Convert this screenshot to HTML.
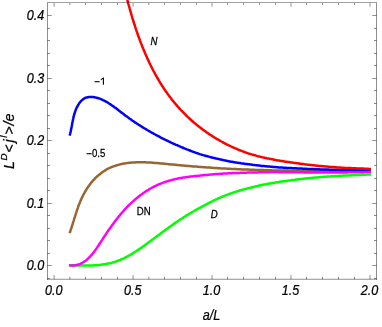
<!DOCTYPE html>
<html><head><meta charset="utf-8"><title>plot</title>
<style>
html,body{margin:0;padding:0;background:#fff;}
body{width:382px;height:327px;overflow:hidden;}
svg{display:block;will-change:transform;}
text{font-family:"Liberation Sans",sans-serif;fill:#000;stroke:#000;stroke-width:0.25px;}
.tk{font-size:14.3px;font-style:italic;}
.lb{font-size:10px;}
</style></head><body>
<svg width="382" height="327" viewBox="0 0 382 327">
<rect width="382" height="327" fill="#fff"/>
<defs><clipPath id="c"><rect x="47.5" y="0" width="329.0" height="279.25"/></clipPath></defs>

<g clip-path="url(#c)" fill="none" stroke-width="2.5" stroke-linejoin="round">
<path d="M69.6,233.1 L69.9,232.2 L70.3,231.2 L70.6,230.2 L71.0,229.3 L71.3,228.3 L71.6,227.3 L71.9,226.3 L72.3,225.2 L72.6,224.2 L72.9,223.2 L73.2,222.1 L73.6,221.1 L73.9,220.0 L74.2,218.9 L74.6,217.8 L74.9,216.8 L75.2,215.7 L75.6,214.6 L75.9,213.5 L76.3,212.4 L76.6,211.3 L77.0,210.3 L77.4,209.2 L77.8,208.1 L78.1,207.0 L78.5,205.9 L78.9,204.8 L79.4,203.8 L79.8,202.7 L80.2,201.6 L80.7,200.5 L81.1,199.5 L81.6,198.4 L82.1,197.4 L82.6,196.4 L83.1,195.3 L83.6,194.3 L84.2,193.3 L84.7,192.3 L85.3,191.3 L85.9,190.3 L86.5,189.4 L87.1,188.4 L87.7,187.5 L88.4,186.5 L89.1,185.6 L89.7,184.7 L90.4,183.7 L91.1,182.8 L91.9,181.9 L92.6,181.0 L93.4,180.2 L94.2,179.3 L95.0,178.5 L95.8,177.7 L96.6,176.9 L97.4,176.2 L98.3,175.4 L99.2,174.7 L100.1,173.9 L101.0,173.2 L101.9,172.5 L102.8,171.9 L103.8,171.2 L104.8,170.6 L105.7,170.0 L106.7,169.4 L107.7,168.8 L108.7,168.4 L109.7,167.9 L110.8,167.5 L111.8,167.0 L112.8,166.6 L113.9,166.3 L115.0,165.9 L116.0,165.5 L117.1,165.2 L118.2,164.9 L119.3,164.6 L120.4,164.3 L121.5,164.1 L122.6,163.8 L123.7,163.6 L124.8,163.4 L125.9,163.2 L127.0,163.1 L128.1,162.9 L129.3,162.8 L130.4,162.7 L131.5,162.6 L132.7,162.5 L133.8,162.4 L135.0,162.4 L136.1,162.3 L137.3,162.3 L138.4,162.3 L139.6,162.3 L140.7,162.2 L141.9,162.3 L143.0,162.3 L144.2,162.3 L145.4,162.3 L146.5,162.4 L147.7,162.4 L148.9,162.5 L150.0,162.6 L151.2,162.6 L152.4,162.7 L153.6,162.8 L154.7,162.9 L155.9,163.0 L157.1,163.1 L158.3,163.2 L159.4,163.3 L160.6,163.4 L161.8,163.5 L162.9,163.6 L164.1,163.7 L165.3,163.8 L166.4,163.9 L167.6,164.1 L168.8,164.2 L169.9,164.3 L171.1,164.4 L172.3,164.5 L173.4,164.6 L174.6,164.7 L175.7,164.8 L176.9,164.9 L178.1,165.1 L179.2,165.2 L180.4,165.3 L181.5,165.4 L182.7,165.5 L183.8,165.6 L184.9,165.7 L186.1,165.8 L187.2,165.9 L188.4,166.0 L189.5,166.1 L190.7,166.2 L191.8,166.3 L192.9,166.4 L194.1,166.5 L195.2,166.5 L196.4,166.6 L197.5,166.7 L198.6,166.8 L199.8,166.9 L200.9,167.0 L202.0,167.1 L203.2,167.2 L204.3,167.2 L205.4,167.3 L206.6,167.4 L207.7,167.5 L208.8,167.6 L209.9,167.6 L211.1,167.7 L212.2,167.8 L213.3,167.9 L214.5,167.9 L215.6,168.0 L216.7,168.1 L217.9,168.2 L219.0,168.2 L220.1,168.3 L221.2,168.4 L222.4,168.4 L223.5,168.5 L224.6,168.5 L225.8,168.6 L226.9,168.7 L228.0,168.7 L229.1,168.8 L230.3,168.8 L231.4,168.9 L232.5,169.0 L233.7,169.0 L234.8,169.1 L235.9,169.1 L237.1,169.2 L238.2,169.2 L239.3,169.3 L240.5,169.3 L241.6,169.4 L242.7,169.4 L243.9,169.4 L245.0,169.5 L246.1,169.5 L247.3,169.6 L248.4,169.6 L249.6,169.7 L250.7,169.7 L251.8,169.7 L253.0,169.8 L254.1,169.8 L255.3,169.9 L256.4,169.9 L257.5,169.9 L258.7,170.0 L259.8,170.0 L261.0,170.1 L262.1,170.1 L263.3,170.1 L264.4,170.2 L265.5,170.2 L266.7,170.2 L267.8,170.3 L269.0,170.3 L270.1,170.3 L271.3,170.3 L272.4,170.4 L273.6,170.4 L274.7,170.4 L275.9,170.4 L277.0,170.5 L278.2,170.5 L279.3,170.5 L280.5,170.5 L281.6,170.5 L282.7,170.6 L283.9,170.6 L285.0,170.6 L286.2,170.6 L287.3,170.6 L288.5,170.7 L289.6,170.7 L290.8,170.7 L291.9,170.7 L293.1,170.7 L294.2,170.7 L295.4,170.7 L296.6,170.8 L297.7,170.8 L298.9,170.8 L300.0,170.8 L301.2,170.8 L302.3,170.8 L303.5,170.8 L304.6,170.8 L305.8,170.8 L306.9,170.8 L308.1,170.9 L309.2,170.9 L310.4,170.9 L311.5,170.9 L312.7,170.9 L313.8,170.9 L315.0,170.9 L316.1,170.9 L317.3,170.9 L318.4,170.9 L319.6,170.9 L320.7,170.9 L321.9,170.9 L323.0,170.9 L324.2,170.9 L325.3,170.9 L326.5,170.9 L327.6,170.9 L328.8,170.9 L329.9,170.9 L331.1,170.9 L332.2,170.9 L333.3,170.9 L334.5,170.9 L335.6,170.9 L336.8,170.9 L337.9,170.9 L339.1,170.9 L340.2,170.9 L341.4,170.9 L342.5,170.9 L343.7,171.0 L344.8,171.0 L346.0,171.0 L347.1,171.0 L348.2,171.0 L349.4,171.0 L350.5,171.0 L351.7,171.0 L352.8,171.0 L353.9,171.0 L355.1,171.0 L356.2,171.0 L357.4,171.0 L358.5,171.0 L359.6,171.0 L360.8,171.0 L361.9,171.0 L363.1,171.0 L364.2,171.0 L365.3,171.0 L366.5,171.0 L367.6,171.0 L368.7,171.0 L369.9,171.0 L371.0,171.0" stroke="#996633"/>
<path d="M69.6,135.6 L69.9,134.6 L70.2,133.6 L70.4,132.6 L70.7,131.5 L70.9,130.4 L71.1,129.3 L71.3,128.2 L71.6,127.0 L71.8,125.9 L72.0,124.7 L72.2,123.5 L72.4,122.4 L72.7,121.2 L72.9,120.0 L73.2,118.8 L73.4,117.6 L73.7,116.4 L74.0,115.2 L74.4,114.0 L74.7,112.9 L75.1,111.7 L75.5,110.6 L75.9,109.5 L76.4,108.3 L76.9,107.3 L77.5,106.2 L78.0,105.2 L78.7,104.2 L79.3,103.2 L80.0,102.3 L80.7,101.4 L81.5,100.6 L82.3,99.9 L83.1,99.2 L84.0,98.6 L84.9,98.1 L85.8,97.7 L86.8,97.4 L87.8,97.2 L88.8,97.0 L89.9,96.9 L91.0,96.9 L92.0,96.9 L93.1,97.0 L94.2,97.2 L95.4,97.4 L96.5,97.7 L97.6,98.0 L98.7,98.3 L99.8,98.7 L100.9,99.1 L102.0,99.6 L103.0,100.1 L104.1,100.6 L105.1,101.1 L106.1,101.7 L107.1,102.2 L108.1,102.8 L109.1,103.5 L110.1,104.1 L111.1,104.7 L112.0,105.4 L113.0,106.1 L113.9,106.7 L114.8,107.4 L115.8,108.1 L116.7,108.8 L117.6,109.5 L118.5,110.3 L119.5,111.0 L120.4,111.7 L121.3,112.4 L122.2,113.1 L123.2,113.8 L124.1,114.5 L125.0,115.2 L125.9,115.9 L126.9,116.6 L127.8,117.3 L128.8,118.0 L129.7,118.7 L130.7,119.3 L131.6,120.0 L132.6,120.7 L133.5,121.3 L134.5,122.0 L135.4,122.6 L136.4,123.3 L137.4,123.9 L138.3,124.5 L139.3,125.1 L140.3,125.8 L141.3,126.4 L142.3,127.0 L143.2,127.6 L144.2,128.2 L145.2,128.8 L146.2,129.4 L147.2,130.0 L148.2,130.5 L149.2,131.1 L150.2,131.7 L151.2,132.3 L152.2,132.8 L153.2,133.4 L154.2,134.0 L155.2,134.5 L156.3,135.1 L157.3,135.6 L158.3,136.2 L159.3,136.7 L160.4,137.3 L161.4,137.8 L162.4,138.3 L163.4,138.8 L164.5,139.4 L165.5,139.9 L166.6,140.4 L167.6,140.9 L168.6,141.4 L169.7,141.9 L170.7,142.4 L171.8,142.9 L172.8,143.3 L173.9,143.8 L175.0,144.3 L176.0,144.8 L177.1,145.2 L178.1,145.7 L179.2,146.2 L180.3,146.6 L181.3,147.1 L182.4,147.5 L183.5,148.0 L184.5,148.4 L185.6,148.8 L186.7,149.3 L187.8,149.7 L188.9,150.1 L189.9,150.5 L191.0,151.0 L192.1,151.4 L193.2,151.8 L194.3,152.2 L195.4,152.6 L196.5,153.0 L197.6,153.3 L198.6,153.7 L199.7,154.1 L200.8,154.4 L201.9,154.8 L203.0,155.1 L204.1,155.4 L205.2,155.7 L206.3,156.0 L207.5,156.3 L208.6,156.6 L209.7,156.9 L210.8,157.2 L211.9,157.5 L213.0,157.8 L214.1,158.0 L215.2,158.3 L216.3,158.6 L217.5,158.8 L218.6,159.1 L219.7,159.3 L220.8,159.6 L221.9,159.8 L223.0,160.1 L224.2,160.3 L225.3,160.6 L226.4,160.8 L227.5,161.0 L228.7,161.2 L229.8,161.4 L230.9,161.7 L232.1,161.8 L233.2,162.0 L234.3,162.2 L235.4,162.4 L236.6,162.6 L237.7,162.8 L238.8,162.9 L240.0,163.1 L241.1,163.3 L242.2,163.4 L243.4,163.6 L244.5,163.7 L245.6,163.9 L246.8,164.0 L247.9,164.2 L249.1,164.3 L250.2,164.5 L251.3,164.6 L252.5,164.8 L253.6,164.9 L254.8,165.1 L255.9,165.2 L257.0,165.3 L258.2,165.5 L259.3,165.6 L260.5,165.7 L261.6,165.9 L262.8,166.0 L263.9,166.1 L265.1,166.2 L266.2,166.3 L267.3,166.4 L268.5,166.5 L269.6,166.6 L270.8,166.7 L271.9,166.8 L273.1,166.9 L274.2,167.0 L275.4,167.1 L276.5,167.2 L277.7,167.3 L278.8,167.4 L280.0,167.4 L281.1,167.5 L282.3,167.6 L283.4,167.7 L284.6,167.7 L285.7,167.8 L286.9,167.9 L288.0,167.9 L289.2,168.0 L290.3,168.0 L291.5,168.1 L292.7,168.2 L293.8,168.2 L295.0,168.3 L296.1,168.3 L297.3,168.4 L298.4,168.4 L299.6,168.5 L300.7,168.6 L301.9,168.6 L303.0,168.7 L304.2,168.7 L305.3,168.8 L306.5,168.8 L307.7,168.9 L308.8,168.9 L310.0,169.0 L311.1,169.0 L312.3,169.1 L313.4,169.1 L314.6,169.2 L315.7,169.2 L316.9,169.2 L318.1,169.3 L319.2,169.3 L320.4,169.4 L321.5,169.4 L322.7,169.4 L323.8,169.5 L325.0,169.5 L326.1,169.6 L327.3,169.6 L328.4,169.6 L329.6,169.7 L330.8,169.7 L331.9,169.7 L333.1,169.7 L334.2,169.8 L335.4,169.8 L336.5,169.8 L337.7,169.8 L338.8,169.8 L340.0,169.9 L341.1,169.9 L342.3,169.9 L343.4,169.9 L344.6,170.0 L345.7,170.0 L346.9,170.0 L348.0,170.0 L349.2,170.0 L350.3,170.1 L351.5,170.1 L352.6,170.1 L353.8,170.1 L354.9,170.2 L356.1,170.2 L357.2,170.2 L358.4,170.2 L359.5,170.3 L360.7,170.3 L361.8,170.3 L363.0,170.4 L364.1,170.4 L365.3,170.4 L366.4,170.5 L367.6,170.5 L368.7,170.5 L369.9,170.6 L371.0,170.6" stroke="#0000ff"/>
<path d="M69.2,265.2 L70.3,265.2 L71.3,265.2 L72.4,265.3 L73.5,265.3 L74.5,265.3 L75.6,265.4 L76.7,265.4 L77.8,265.4 L78.9,265.4 L79.9,265.5 L81.0,265.5 L82.1,265.5 L83.2,265.5 L84.3,265.5 L85.4,265.5 L86.5,265.5 L87.6,265.5 L88.7,265.5 L89.8,265.5 L90.9,265.4 L92.0,265.4 L93.1,265.4 L94.2,265.3 L95.3,265.2 L96.4,265.2 L97.5,265.1 L98.5,265.0 L99.6,264.9 L100.7,264.8 L101.8,264.6 L102.9,264.5 L103.9,264.3 L105.0,264.2 L106.0,264.0 L107.1,263.8 L108.1,263.6 L109.2,263.4 L110.2,263.1 L111.3,262.9 L112.3,262.6 L113.3,262.3 L114.3,262.0 L115.3,261.7 L116.3,261.3 L117.3,261.0 L118.3,260.6 L119.3,260.2 L120.3,259.8 L121.2,259.4 L122.2,259.0 L123.2,258.5 L124.1,258.1 L125.1,257.6 L126.0,257.1 L127.0,256.6 L127.9,256.1 L128.8,255.6 L129.8,255.1 L130.7,254.6 L131.6,254.0 L132.5,253.5 L133.4,252.9 L134.4,252.4 L135.3,251.8 L136.2,251.2 L137.1,250.6 L138.0,250.0 L138.9,249.4 L139.8,248.8 L140.7,248.2 L141.6,247.6 L142.4,246.9 L143.3,246.3 L144.2,245.7 L145.1,245.0 L146.0,244.4 L146.9,243.7 L147.7,243.1 L148.6,242.4 L149.5,241.8 L150.4,241.1 L151.3,240.5 L152.1,239.8 L153.0,239.2 L153.9,238.5 L154.8,237.8 L155.7,237.2 L156.5,236.5 L157.4,235.9 L158.3,235.2 L159.2,234.6 L160.1,233.9 L160.9,233.2 L161.8,232.6 L162.7,231.9 L163.6,231.3 L164.5,230.7 L165.3,230.0 L166.2,229.4 L167.1,228.7 L168.0,228.1 L168.9,227.4 L169.8,226.8 L170.7,226.2 L171.6,225.5 L172.4,224.9 L173.3,224.3 L174.2,223.6 L175.1,223.0 L176.0,222.4 L176.9,221.8 L177.8,221.2 L178.7,220.6 L179.6,219.9 L180.5,219.3 L181.4,218.8 L182.3,218.2 L183.2,217.6 L184.1,217.0 L185.0,216.5 L185.9,215.9 L186.8,215.3 L187.8,214.8 L188.7,214.2 L189.6,213.7 L190.5,213.1 L191.4,212.6 L192.3,212.0 L193.2,211.5 L194.2,211.0 L195.1,210.4 L196.0,209.9 L196.9,209.4 L197.9,208.9 L198.8,208.4 L199.7,207.9 L200.7,207.3 L201.6,206.8 L202.5,206.3 L203.5,205.8 L204.4,205.3 L205.4,204.8 L206.3,204.3 L207.2,203.8 L208.2,203.3 L209.1,202.8 L210.1,202.3 L211.1,201.8 L212.0,201.4 L213.0,200.9 L213.9,200.4 L214.9,200.0 L215.9,199.5 L216.8,199.1 L217.8,198.6 L218.8,198.2 L219.8,197.8 L220.7,197.3 L221.7,196.9 L222.7,196.5 L223.7,196.1 L224.7,195.7 L225.7,195.3 L226.6,194.9 L227.6,194.6 L228.6,194.2 L229.6,193.8 L230.6,193.5 L231.7,193.1 L232.7,192.8 L233.7,192.4 L234.7,192.1 L235.7,191.8 L236.7,191.5 L237.7,191.1 L238.8,190.8 L239.8,190.5 L240.8,190.2 L241.8,189.9 L242.9,189.6 L243.9,189.4 L244.9,189.1 L246.0,188.8 L247.0,188.5 L248.0,188.3 L249.1,188.0 L250.1,187.7 L251.2,187.5 L252.2,187.2 L253.3,186.9 L254.3,186.7 L255.4,186.4 L256.4,186.2 L257.5,186.0 L258.5,185.7 L259.6,185.5 L260.7,185.3 L261.7,185.1 L262.8,184.8 L263.9,184.6 L264.9,184.4 L266.0,184.2 L267.1,184.0 L268.1,183.8 L269.2,183.6 L270.3,183.5 L271.4,183.3 L272.4,183.1 L273.5,182.9 L274.6,182.7 L275.7,182.5 L276.7,182.3 L277.8,182.2 L278.9,182.0 L280.0,181.8 L281.1,181.6 L282.2,181.5 L283.2,181.3 L284.3,181.2 L285.4,181.0 L286.5,180.9 L287.6,180.7 L288.7,180.6 L289.8,180.4 L290.9,180.3 L291.9,180.1 L293.0,180.0 L294.1,179.9 L295.2,179.8 L296.3,179.6 L297.4,179.5 L298.5,179.3 L299.6,179.2 L300.7,179.1 L301.8,178.9 L302.9,178.8 L304.0,178.7 L305.1,178.6 L306.2,178.5 L307.3,178.3 L308.4,178.2 L309.5,178.1 L310.6,178.0 L311.6,177.9 L312.7,177.8 L313.8,177.7 L314.9,177.6 L316.0,177.5 L317.1,177.4 L318.2,177.3 L319.3,177.2 L320.4,177.1 L321.5,177.0 L322.6,176.9 L323.7,176.8 L324.8,176.8 L325.9,176.7 L327.0,176.6 L328.1,176.5 L329.2,176.5 L330.3,176.4 L331.3,176.3 L332.4,176.2 L333.5,176.2 L334.6,176.1 L335.7,176.0 L336.8,176.0 L337.9,175.9 L339.0,175.8 L340.0,175.8 L341.1,175.7 L342.2,175.7 L343.3,175.6 L344.4,175.5 L345.5,175.5 L346.5,175.5 L347.6,175.4 L348.7,175.4 L349.8,175.3 L350.8,175.3 L351.9,175.2 L353.0,175.2 L354.1,175.1 L355.1,175.1 L356.2,175.1 L357.3,175.0 L358.3,175.0 L359.4,174.9 L360.5,174.9 L361.5,174.8 L362.6,174.8 L363.6,174.8 L364.7,174.7 L365.7,174.7 L366.8,174.6 L367.9,174.6 L368.9,174.5 L370.0,174.5 L371.0,174.4" stroke="#00ff00"/>
<path d="M69.1,265.3 L70.3,265.5 L71.5,265.5 L72.7,265.5 L73.9,265.4 L75.0,265.3 L76.2,265.1 L77.3,264.9 L78.3,264.5 L79.4,264.2 L80.4,263.8 L81.4,263.3 L82.4,262.8 L83.3,262.2 L84.2,261.7 L85.2,261.0 L86.0,260.4 L86.9,259.7 L87.7,258.9 L88.5,258.2 L89.3,257.4 L90.1,256.6 L90.9,255.7 L91.6,254.9 L92.4,254.0 L93.1,253.1 L93.8,252.2 L94.5,251.3 L95.2,250.3 L95.8,249.4 L96.5,248.4 L97.2,247.4 L97.8,246.5 L98.5,245.5 L99.1,244.5 L99.7,243.5 L100.4,242.5 L101.0,241.6 L101.6,240.6 L102.3,239.6 L102.9,238.7 L103.5,237.7 L104.2,236.7 L104.8,235.8 L105.4,234.8 L106.1,233.9 L106.7,232.9 L107.3,232.0 L108.0,231.1 L108.6,230.1 L109.3,229.2 L109.9,228.3 L110.6,227.4 L111.2,226.5 L111.9,225.6 L112.5,224.7 L113.2,223.8 L113.8,222.9 L114.5,222.0 L115.2,221.1 L115.8,220.2 L116.5,219.3 L117.2,218.5 L117.9,217.6 L118.6,216.7 L119.3,215.9 L120.0,215.0 L120.7,214.2 L121.4,213.3 L122.1,212.5 L122.8,211.7 L123.6,210.8 L124.3,210.0 L125.1,209.2 L125.8,208.4 L126.6,207.6 L127.3,206.8 L128.1,206.0 L128.9,205.2 L129.7,204.4 L130.5,203.7 L131.3,202.9 L132.2,202.1 L133.0,201.4 L133.8,200.6 L134.7,199.9 L135.5,199.1 L136.4,198.4 L137.3,197.7 L138.2,197.0 L139.1,196.2 L140.0,195.5 L140.9,194.8 L141.8,194.2 L142.8,193.5 L143.7,192.8 L144.7,192.2 L145.6,191.5 L146.6,190.9 L147.6,190.3 L148.6,189.7 L149.5,189.1 L150.5,188.5 L151.5,188.0 L152.5,187.4 L153.5,186.9 L154.6,186.3 L155.6,185.8 L156.6,185.4 L157.6,184.9 L158.7,184.4 L159.7,184.0 L160.7,183.6 L161.8,183.2 L162.8,182.8 L163.9,182.4 L165.0,182.0 L166.0,181.7 L167.1,181.3 L168.2,181.0 L169.2,180.7 L170.3,180.4 L171.4,180.1 L172.5,179.8 L173.5,179.5 L174.6,179.3 L175.7,179.0 L176.8,178.8 L177.9,178.5 L179.0,178.3 L180.1,178.1 L181.2,177.9 L182.3,177.7 L183.4,177.5 L184.5,177.4 L185.6,177.2 L186.7,177.1 L187.9,176.9 L189.0,176.8 L190.1,176.6 L191.2,176.5 L192.3,176.4 L193.4,176.2 L194.5,176.1 L195.7,176.0 L196.8,175.9 L197.9,175.8 L199.0,175.7 L200.1,175.6 L201.3,175.4 L202.4,175.3 L203.5,175.2 L204.6,175.1 L205.7,175.0 L206.9,174.9 L208.0,174.8 L209.1,174.7 L210.2,174.6 L211.4,174.5 L212.5,174.4 L213.6,174.3 L214.7,174.2 L215.9,174.1 L217.0,174.0 L218.1,174.0 L219.2,173.9 L220.4,173.8 L221.5,173.7 L222.6,173.7 L223.7,173.6 L224.9,173.5 L226.0,173.5 L227.1,173.4 L228.2,173.3 L229.4,173.3 L230.5,173.2 L231.6,173.2 L232.8,173.1 L233.9,173.1 L235.0,173.0 L236.2,173.0 L237.3,172.9 L238.4,172.9 L239.5,172.9 L240.7,172.8 L241.8,172.8 L242.9,172.8 L244.1,172.7 L245.2,172.7 L246.3,172.7 L247.5,172.6 L248.6,172.6 L249.7,172.6 L250.9,172.5 L252.0,172.5 L253.1,172.5 L254.3,172.4 L255.4,172.4 L256.5,172.4 L257.7,172.4 L258.8,172.3 L259.9,172.3 L261.1,172.3 L262.2,172.3 L263.4,172.3 L264.5,172.2 L265.6,172.2 L266.8,172.2 L267.9,172.2 L269.0,172.2 L270.2,172.2 L271.3,172.1 L272.4,172.1 L273.6,172.1 L274.7,172.1 L275.9,172.1 L277.0,172.1 L278.1,172.1 L279.3,172.2 L280.4,172.2 L281.5,172.2 L282.7,172.2 L283.8,172.2 L284.9,172.2 L286.1,172.2 L287.2,172.2 L288.4,172.2 L289.5,172.2 L290.6,172.2 L291.8,172.2 L292.9,172.3 L294.0,172.3 L295.2,172.3 L296.3,172.3 L297.5,172.3 L298.6,172.3 L299.7,172.3 L300.9,172.3 L302.0,172.3 L303.1,172.3 L304.3,172.4 L305.4,172.4 L306.5,172.4 L307.7,172.4 L308.8,172.4 L310.0,172.4 L311.1,172.4 L312.2,172.4 L313.4,172.4 L314.5,172.4 L315.6,172.5 L316.8,172.5 L317.9,172.5 L319.0,172.5 L320.2,172.5 L321.3,172.5 L322.4,172.5 L323.6,172.5 L324.7,172.5 L325.8,172.5 L327.0,172.5 L328.1,172.5 L329.2,172.5 L330.4,172.4 L331.5,172.4 L332.6,172.4 L333.8,172.4 L334.9,172.4 L336.0,172.4 L337.2,172.4 L338.3,172.4 L339.4,172.4 L340.6,172.4 L341.7,172.4 L342.8,172.4 L344.0,172.4 L345.1,172.4 L346.2,172.4 L347.4,172.4 L348.5,172.3 L349.6,172.3 L350.7,172.3 L351.9,172.3 L353.0,172.3 L354.1,172.3 L355.3,172.3 L356.4,172.3 L357.5,172.3 L358.6,172.3 L359.8,172.2 L360.9,172.2 L362.0,172.2 L363.1,172.2 L364.3,172.2 L365.4,172.1 L366.5,172.1 L367.6,172.1 L368.8,172.1 L369.9,172.0 L371.0,172.0" stroke="#ff00ff"/>
<path d="M126.6,-3.0 L126.9,-2.0 L127.1,-0.9 L127.4,0.1 L127.7,1.2 L128.0,2.2 L128.2,3.3 L128.5,4.3 L128.8,5.4 L129.1,6.4 L129.4,7.5 L129.7,8.6 L130.0,9.6 L130.3,10.7 L130.6,11.7 L130.9,12.8 L131.2,13.9 L131.5,14.9 L131.8,16.0 L132.1,17.0 L132.4,18.1 L132.8,19.2 L133.1,20.2 L133.4,21.3 L133.8,22.4 L134.1,23.4 L134.4,24.5 L134.8,25.5 L135.1,26.6 L135.5,27.7 L135.8,28.7 L136.2,29.8 L136.5,30.9 L136.9,31.9 L137.3,33.0 L137.6,34.0 L138.0,35.1 L138.4,36.2 L138.8,37.2 L139.2,38.3 L139.6,39.3 L139.9,40.4 L140.3,41.4 L140.7,42.5 L141.1,43.5 L141.6,44.6 L142.0,45.6 L142.4,46.7 L142.8,47.7 L143.2,48.8 L143.7,49.8 L144.1,50.8 L144.5,51.9 L145.0,52.9 L145.4,54.0 L145.9,55.0 L146.3,56.0 L146.8,57.0 L147.2,58.1 L147.7,59.1 L148.2,60.1 L148.6,61.1 L149.1,62.2 L149.6,63.2 L150.1,64.2 L150.6,65.2 L151.1,66.2 L151.6,67.2 L152.1,68.2 L152.6,69.2 L153.1,70.2 L153.6,71.2 L154.2,72.2 L154.7,73.2 L155.2,74.1 L155.8,75.1 L156.3,76.1 L156.9,77.1 L157.4,78.0 L158.0,79.0 L158.6,80.0 L159.1,80.9 L159.7,81.9 L160.3,82.8 L160.9,83.8 L161.5,84.7 L162.0,85.7 L162.6,86.6 L163.3,87.5 L163.9,88.5 L164.5,89.4 L165.1,90.3 L165.7,91.2 L166.4,92.1 L167.0,93.0 L167.7,93.9 L168.3,94.8 L169.0,95.7 L169.6,96.6 L170.3,97.5 L171.0,98.3 L171.6,99.2 L172.3,100.1 L173.0,100.9 L173.7,101.8 L174.4,102.6 L175.1,103.5 L175.8,104.3 L176.5,105.2 L177.3,106.0 L178.0,106.8 L178.7,107.6 L179.4,108.5 L180.2,109.3 L180.9,110.1 L181.7,110.9 L182.5,111.7 L183.2,112.4 L184.0,113.2 L184.8,114.0 L185.5,114.8 L186.3,115.5 L187.1,116.3 L187.9,117.1 L188.7,117.8 L189.5,118.5 L190.3,119.3 L191.1,120.0 L191.9,120.7 L192.8,121.5 L193.6,122.2 L194.4,122.9 L195.3,123.6 L196.1,124.3 L196.9,125.0 L197.8,125.7 L198.6,126.4 L199.5,127.0 L200.4,127.7 L201.2,128.4 L202.1,129.0 L203.0,129.7 L203.9,130.3 L204.8,131.0 L205.6,131.6 L206.5,132.3 L207.4,132.9 L208.3,133.5 L209.2,134.1 L210.2,134.7 L211.1,135.3 L212.0,135.9 L212.9,136.5 L213.8,137.1 L214.8,137.7 L215.7,138.2 L216.6,138.8 L217.6,139.3 L218.5,139.9 L219.5,140.4 L220.4,141.0 L221.4,141.5 L222.4,142.0 L223.3,142.6 L224.3,143.1 L225.3,143.6 L226.2,144.1 L227.2,144.6 L228.2,145.1 L229.2,145.5 L230.2,146.0 L231.2,146.5 L232.2,147.0 L233.2,147.4 L234.2,147.9 L235.2,148.3 L236.2,148.7 L237.2,149.2 L238.2,149.6 L239.2,150.0 L240.3,150.4 L241.3,150.8 L242.3,151.2 L243.4,151.6 L244.4,152.0 L245.4,152.4 L246.5,152.7 L247.5,153.1 L248.6,153.5 L249.6,153.8 L250.7,154.1 L251.7,154.4 L252.8,154.7 L253.8,155.0 L254.9,155.3 L256.0,155.6 L257.0,155.9 L258.1,156.2 L259.2,156.4 L260.3,156.7 L261.3,156.9 L262.4,157.2 L263.5,157.4 L264.6,157.7 L265.7,157.9 L266.7,158.2 L267.8,158.4 L268.9,158.6 L270.0,158.9 L271.1,159.1 L272.2,159.3 L273.3,159.5 L274.4,159.8 L275.5,160.0 L276.6,160.2 L277.7,160.4 L278.8,160.6 L279.9,160.8 L281.0,161.0 L282.1,161.1 L283.3,161.3 L284.4,161.5 L285.5,161.7 L286.6,161.8 L287.7,162.0 L288.8,162.1 L289.9,162.3 L291.1,162.5 L292.2,162.6 L293.3,162.7 L294.4,162.9 L295.6,163.0 L296.7,163.2 L297.8,163.3 L298.9,163.5 L300.0,163.7 L301.2,163.8 L302.3,164.0 L303.4,164.1 L304.5,164.3 L305.7,164.4 L306.8,164.6 L307.9,164.7 L309.1,164.8 L310.2,165.0 L311.3,165.1 L312.4,165.2 L313.6,165.3 L314.7,165.5 L315.8,165.6 L316.9,165.7 L318.1,165.8 L319.2,165.9 L320.3,166.0 L321.5,166.1 L322.6,166.2 L323.7,166.3 L324.8,166.4 L326.0,166.5 L327.1,166.6 L328.2,166.7 L329.3,166.8 L330.4,166.9 L331.6,167.0 L332.7,167.1 L333.8,167.1 L334.9,167.2 L336.0,167.3 L337.2,167.4 L338.3,167.4 L339.4,167.5 L340.5,167.6 L341.6,167.7 L342.7,167.7 L343.8,167.8 L344.9,167.9 L346.0,167.9 L347.1,168.0 L348.3,168.0 L349.4,168.1 L350.5,168.1 L351.6,168.2 L352.6,168.2 L353.7,168.2 L354.8,168.3 L355.9,168.3 L357.0,168.4 L358.1,168.4 L359.2,168.5 L360.3,168.5 L361.4,168.6 L362.4,168.6 L363.5,168.6 L364.6,168.7 L365.7,168.7 L366.7,168.8 L367.8,168.8 L368.9,168.9 L369.9,168.9 L371.0,168.9" stroke="#ff0000"/>
</g>
<path d="M47.5,3.0V279.75M376.5,3.0V279.75M47.0,279.25H377.0M54.10,279.25v-4.2M54.10,3.0v3.7M69.89,279.25v-2.5M69.89,3.0v2.0M85.50,279.25v-2.5M85.50,3.0v2.0M101.50,279.25v-2.5M101.50,3.0v2.0M117.50,279.25v-2.5M117.50,3.0v2.0M133.07,279.25v-4.2M133.07,3.0v3.7M148.87,279.25v-2.5M148.87,3.0v2.0M164.50,279.25v-2.5M164.50,3.0v2.0M180.50,279.25v-2.5M180.50,3.0v2.0M196.50,279.25v-2.5M196.50,3.0v2.0M212.05,279.25v-4.2M212.05,3.0v3.7M227.50,279.25v-2.5M227.50,3.0v2.0M243.50,279.25v-2.5M243.50,3.0v2.0M259.50,279.25v-2.5M259.50,3.0v2.0M275.50,279.25v-2.5M275.50,3.0v2.0M291.02,279.25v-4.2M291.02,3.0v3.7M306.50,279.25v-2.5M306.50,3.0v2.0M322.50,279.25v-2.5M322.50,3.0v2.0M338.50,279.25v-2.5M338.50,3.0v2.0M354.50,279.25v-2.5M354.50,3.0v2.0M370.00,279.25v-4.2M370.00,3.0v3.7M47.5,265.50h4.2M376.5,265.50h-4.2M47.5,253.50h2.5M376.5,253.50h-2.5M47.5,240.50h2.5M376.5,240.50h-2.5M47.5,228.50h2.5M376.5,228.50h-2.5M47.5,215.50h2.5M376.5,215.50h-2.5M47.5,203.50h4.2M376.5,203.50h-4.2M47.5,190.50h2.5M376.5,190.50h-2.5M47.5,178.50h2.5M376.5,178.50h-2.5M47.5,165.50h2.5M376.5,165.50h-2.5M47.5,153.50h2.5M376.5,153.50h-2.5M47.5,140.50h4.2M376.5,140.50h-4.2M47.5,128.50h2.5M376.5,128.50h-2.5M47.5,115.50h2.5M376.5,115.50h-2.5M47.5,103.50h2.5M376.5,103.50h-2.5M47.5,90.50h2.5M376.5,90.50h-2.5M47.5,78.50h4.2M376.5,78.50h-4.2M47.5,65.50h2.5M376.5,65.50h-2.5M47.5,53.50h2.5M376.5,53.50h-2.5M47.5,40.50h2.5M376.5,40.50h-2.5M47.5,28.50h2.5M376.5,28.50h-2.5M47.5,15.50h4.2M376.5,15.50h-4.2M47.5,278.50h2.5M376.5,278.50h-2.5" stroke="#000" stroke-opacity="0.44" stroke-width="1" fill="none"/>
<path d="M47.0,2.5H377.0" fill="none" stroke="#000" stroke-opacity="0.37" stroke-width="1"/>
<text class="tk" transform="translate(53.7,294.9) scale(0.88,1)" text-anchor="middle">0.0</text>
<text class="tk" transform="translate(132.7,294.9) scale(0.88,1)" text-anchor="middle">0.5</text>
<text class="tk" transform="translate(211.6,294.9) scale(0.88,1)" text-anchor="middle">1.0</text>
<text class="tk" transform="translate(290.6,294.9) scale(0.88,1)" text-anchor="middle">1.5</text>
<text class="tk" transform="translate(369.6,294.9) scale(0.88,1)" text-anchor="middle">2.0</text>
<text class="tk" transform="translate(44.3,270.1) scale(0.88,1)" text-anchor="end">0.0</text>
<text class="tk" transform="translate(44.3,207.6) scale(0.88,1)" text-anchor="end">0.1</text>
<text class="tk" transform="translate(44.3,145.1) scale(0.88,1)" text-anchor="end">0.2</text>
<text class="tk" transform="translate(44.3,82.6) scale(0.88,1)" text-anchor="end">0.3</text>
<text class="tk" transform="translate(44.3,20.1) scale(0.88,1)" text-anchor="end">0.4</text>
<text class="tk" transform="translate(211.5,320.3) scale(0.88,1)" text-anchor="middle">a/L</text>
<text class="tk" transform="translate(14.0,169) rotate(-90)"><tspan x="0.0" y="0" font-size="14.3">L</tspan><tspan x="8.5" y="-6.6" font-size="9.8">D</tspan><tspan x="16.3" y="0" font-size="14.3">&lt;</tspan><tspan x="26.6" y="0" font-size="14.3">j</tspan><tspan x="31.3" y="-6.8" font-size="9.8">l</tspan><tspan x="34.3" y="0" font-size="14.3">&gt;</tspan><tspan x="43.4" y="0" font-size="14.3">/</tspan><tspan x="47.4" y="0" font-size="14.3">e</tspan></text>
<text class="lb" transform="translate(154.0,44.6) scale(0.96,1)" text-anchor="middle" font-style="italic">N</text>
<text class="lb" transform="translate(97.3,85.0) scale(0.96,1)" text-anchor="middle">−</text>
<text class="lb" transform="translate(95.9,156.9) scale(0.96,1)" text-anchor="middle">−0.5</text>
<text class="lb" transform="translate(143.8,214.5) scale(0.96,1)" text-anchor="middle">DN</text>
<text class="lb" transform="translate(214.3,218.0) scale(0.96,1)" text-anchor="middle" font-style="italic">D</text>
<path d="M102.85,84.8V78.9L100.75,80.15V79.15L103.0,77.5H103.95V84.8Z" fill="#000"/>
</svg></body></html>
